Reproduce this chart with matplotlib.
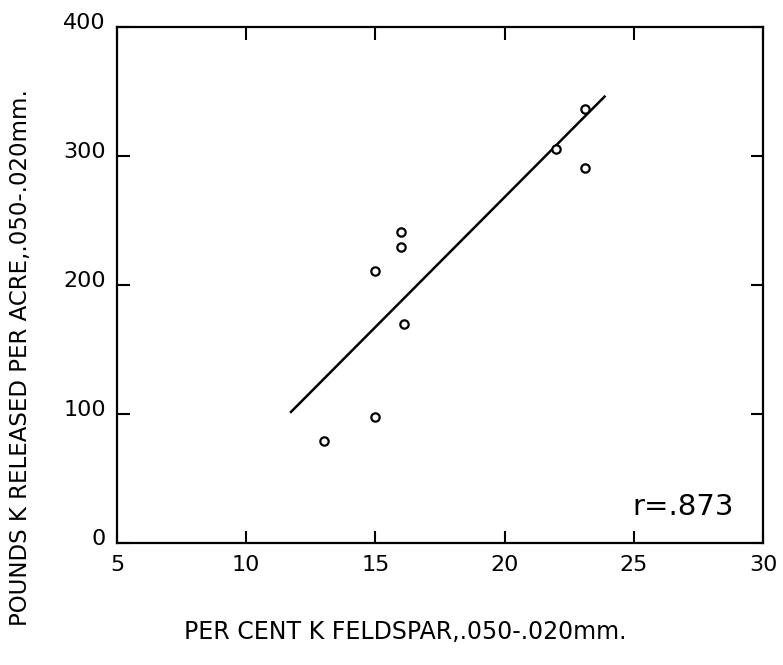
import matplotlib as mpl
mpl.use('Agg')
import matplotlib.pyplot as plt
import matplotlib.transforms as mtransforms

# per cent K feldspar vs pounds K released per acre
feldspar_pct = [13, 15, 15, 16, 16, 16.1, 22, 23.1, 23.1]
k_released = [79, 98, 211, 241, 230, 170, 306, 291, 337]

# regression line ends
line_x = [11.7, 23.9]
line_y = [101, 347]

x_ticks = [5, 10, 15, 20, 25, 30]
y_ticks = [0, 100, 200, 300, 400]
r_label = "r=.873"

plt.rcParams['font.family'] = ['DejaVu Sans']

fig = plt.figure(figsize=(7.83, 6.65), dpi=100)
ax = fig.add_axes([0.1494, 0.1835, 0.8251, 0.7752])

ax.plot(line_x, line_y, color='black', lw=1.8, solid_capstyle='butt')
ax.plot(feldspar_pct, k_released, 'o', mfc='white', mec='black',
        ms=6, mew=1.6, ls='none')

ax.set_xlim(5, 30)
ax.set_ylim(0, 400)
ax.set_xticks(x_ticks)
ax.set_yticks(y_ticks)
ax.tick_params(direction='in', top=True, right=True, length=9, width=1.5,
               labelsize=16, pad=9, color='black')
ax.tick_params(axis='y', pad=8)
for sp in ax.spines.values():
    sp.set_linewidth(1.6)

# y labels sit a bit above their ticks in the original
offset = mtransforms.ScaledTranslation(0, 6 / 100, fig.dpi_scale_trans)
for lab in ax.get_yticklabels():
    lab.set_transform(lab.get_transform() + offset)

ax.text(0.797, 0.07, r_label, transform=ax.transAxes, fontsize=21,
        ha='left', va='center')

fig.text(405 / 783, 1 - 632 / 665, "PER CENT K FELDSPAR,.050-.020mm.",
         fontsize=17, ha='center', va='center')
fig.text(21 / 783, 1 - 358 / 665, "POUNDS K RELEASED PER ACRE,.050-.020mm.",
         fontsize=16.5, ha='center', va='center', rotation=90)

fig.savefig('out.png', dpi=100)
